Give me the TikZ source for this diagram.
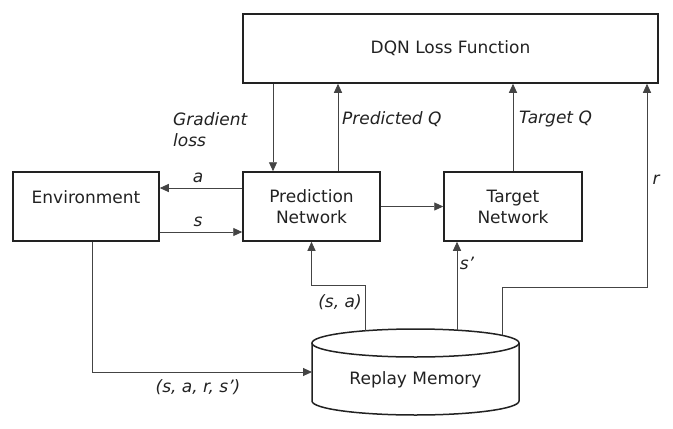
\documentclass[tikz,border=0pt]{standalone}
\usepackage{fontspec}
\setmainfont{DejaVu Sans}
\usetikzlibrary{arrows.meta,calc}
\definecolor{ink}{HTML}{222222}
\definecolor{wire}{HTML}{444444}
\begin{document}
\begin{tikzpicture}[x=1pt,y=1pt,
  every node/.style={font=\fontsize{17}{21}\selectfont, text=ink},
  box/.style={draw=ink, line width=1.5pt, fill=white, align=center, inner sep=0pt},
  lbl/.style={font=\fontsize{17}{21}\selectfont\itshape, inner sep=0pt},
  wirearrow/.style={draw=wire, line width=0.9pt, -{Triangle[length=9pt,width=8pt]}},
  wireline/.style={draw=wire, line width=0.9pt}]
\useasboundingbox (0,0) rectangle (673,-429);
% boxes
\node[box, minimum width=415pt, minimum height=69pt] (loss) at (450.5,-48.5) {DQN Loss Function};
\node[box, minimum width=146pt, minimum height=69pt] (env) at (86,-206.5) {};
\node (envtxt) at (86,-197) {Environment};
\node[box, minimum width=137pt, minimum height=69pt] (pred) at (311.5,-206.5) {Prediction\\Network};
\node[box, minimum width=138pt, minimum height=69pt] (targ) at (513,-206.5) {Target\\Network};
% cylinder (replay memory)
\fill[white] (312,-343) -- (312,-401) arc[start angle=180,end angle=360,x radius=103.5pt,y radius=14pt] -- (519,-343) -- cycle;
\draw[ink, line width=1.5pt] (312,-343) -- (312,-401) arc[start angle=180,end angle=360,x radius=103.5pt,y radius=14pt] -- (519,-343);
\draw[ink, line width=1.5pt] (415.5,-343) ellipse[x radius=103.5pt,y radius=14pt];
\node (mem) at (415.5,-380) {Replay Memory};
\coordinate (memL) at (312,-372);
\coordinate (memSA) at (365,-330.8);
\coordinate (memS) at (457,-330.2);
\coordinate (memR) at (502,-335.3);
% connectors
\draw[wirearrow] (273,0 |- loss.south) -- (273,0 |- pred.north);
\draw[wirearrow] (338,0 |- pred.north) -- (338,0 |- loss.south);
\draw[wirearrow] (targ.north) -- (targ.north |- loss.south);
\draw[wirearrow] (pred.west |- 0,-188) -- (env.east |- 0,-188);
\draw[wirearrow] (env.east |- 0,-232) -- (pred.west |- 0,-232);
\draw[wirearrow] (pred.east) -- (targ.west);
\draw[wirearrow] (92,0 |- env.south) -- (92,-372) -- (memL);
\draw[wirearrow] (memSA) -- (365,-285) -- (pred.south |- 0,-285) -- (pred.south);
\draw[wirearrow] (memS) -- (memS |- targ.south);
\draw[wirearrow] (memR) -- (502,-287) -- (647,-287) -- (647,0 |- loss.south);
% labels
\node[lbl, anchor=west, align=left] (glbl) at (173,-129.5) {Gradient\\loss};
\node[lbl, anchor=west] (pqlbl) at (342,-119) {Predicted Q};
\node[lbl, anchor=west] (tqlbl) at (519,-119) {Target Q};
\node[lbl] (albl) at (198,-178) {a};
\node[lbl] (slbl) at (198,-222) {s};
\node[lbl] (rlbl) at (656,-180) {r};
\node[lbl] (splbl) at (467,-263) {s’};
\node[lbl] (salbl) at (340,-302) {(s, a)};
\node[lbl] (sarslbl) at (198,-387) {(s, a, r, s’)};
\end{tikzpicture}
\end{document}
